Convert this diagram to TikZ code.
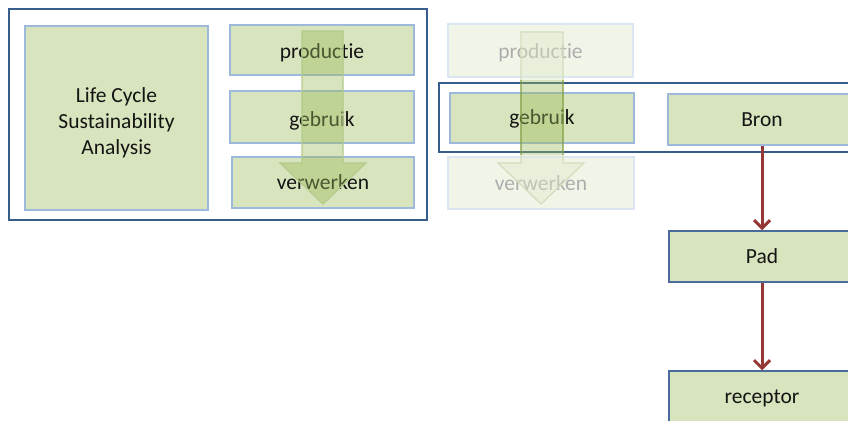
\documentclass[tikz,border=0pt]{standalone}
\usepackage{fontspec}
\setmainfont{Carlito}[Ligatures=NoCommon]
\usetikzlibrary{arrows.meta}
\definecolor{boxfill}{HTML}{D7E4BD}
\definecolor{boxline}{HTML}{9DB9DC}
\definecolor{framecol}{HTML}{385D8A}
\definecolor{padline}{HTML}{4A6C9B}
\definecolor{flowred}{HTML}{953735}
\definecolor{arrowgreen}{HTML}{9BBB59}
\definecolor{arrowedgelight}{HTML}{B3CB8B}
\definecolor{arrowedgedark}{HTML}{7F9E42}
\definecolor{inktext}{HTML}{141414}
\begin{document}
\begin{tikzpicture}[x=1pt,y=-1pt,
  font=\fontsize{21.5}{26}\selectfont,
  stagebox/.style={draw=boxline, line width=1.8pt, fill=boxfill, inner sep=0pt,
    text=inktext, align=center},
  chainbox/.style={stagebox, draw=padline, line width=1.5pt},
  baseline drop/.style={text depth=0pt, text height=#1},
  groupframe/.style={draw=framecol, line width=1.6pt},
  flowarrow/.style={draw=flowred, line width=3pt,
    -{Straight Barb[length=8pt,width=16pt]}},
  lifearrow/.style={fill=arrowgreen, fill opacity=0.4, line width=1.2pt},
  fadeveil/.style={fill=white, fill opacity=0.65}]
\useasboundingbox (0,0) rectangle (848,420);
\clip (0,0) rectangle (848,420);

% life cycle group
\draw[groupframe] (9,9) rectangle (427,220);
\node[stagebox, minimum width=183pt, minimum height=184pt] (lcsa) at (116.5,118)
  {\strut\\[-20pt]Life Cycle\\Sustainability\\Analysis};
\node[stagebox, baseline drop=17.6pt, minimum width=184pt, minimum height=50pt] (prodL) at (322,50) {productie};
\node[stagebox, baseline drop=18pt, minimum width=184pt, minimum height=52pt] (gebrL) at (322,117) {gebruik};
\node[stagebox, baseline drop=13pt, minimum width=182pt, minimum height=51pt] (verwL) at (323,182.5) {verwerken};
\path[lifearrow, draw=arrowedgelight]
  (302,31) -- (343,31) -- (343,163) -- (366,163) -- (323,204) -- (280,163) -- (302,163) -- cycle;

% source-path-receptor chain
\draw[groupframe] (439,83) rectangle (870,152);
\node[stagebox, baseline drop=15.6pt, minimum width=185pt, minimum height=53pt] (prodR) at (540.5,50.5) {productie};
\node[stagebox, baseline drop=14pt, minimum width=186pt, minimum height=52pt] (verwR) at (541,183) {verwerken};
\node[stagebox, baseline drop=12pt, minimum width=184pt, minimum height=50pt] (gebrR) at (542,118) {gebruik};
\node[stagebox, baseline drop=14.4pt, minimum width=188pt, minimum height=51pt] (bron) at (762,119.5) {Bron};
\path[lifearrow, draw=arrowedgedark]
  (521,32) -- (563,32) -- (563,163) -- (584,163) -- (541,204) -- (498,163) -- (521,163) -- cycle;
% fade the stages outside the use phase
\fill[fadeveil] (445,21) rectangle (637,79.5);
\fill[fadeveil] (445,155) rectangle (637,212);

\node[chainbox, baseline drop=13.6pt, minimum width=186pt, minimum height=51pt] (pad) at (762,256.5) {Pad};
\node[chainbox, baseline drop=13.6pt, minimum width=186pt, minimum height=51pt] (receptor) at (762,396.5) {receptor};
\draw[flowarrow] (bron.south) -- (pad.north);
\draw[flowarrow] (pad.south) -- (receptor.north);
\end{tikzpicture}
\end{document}
